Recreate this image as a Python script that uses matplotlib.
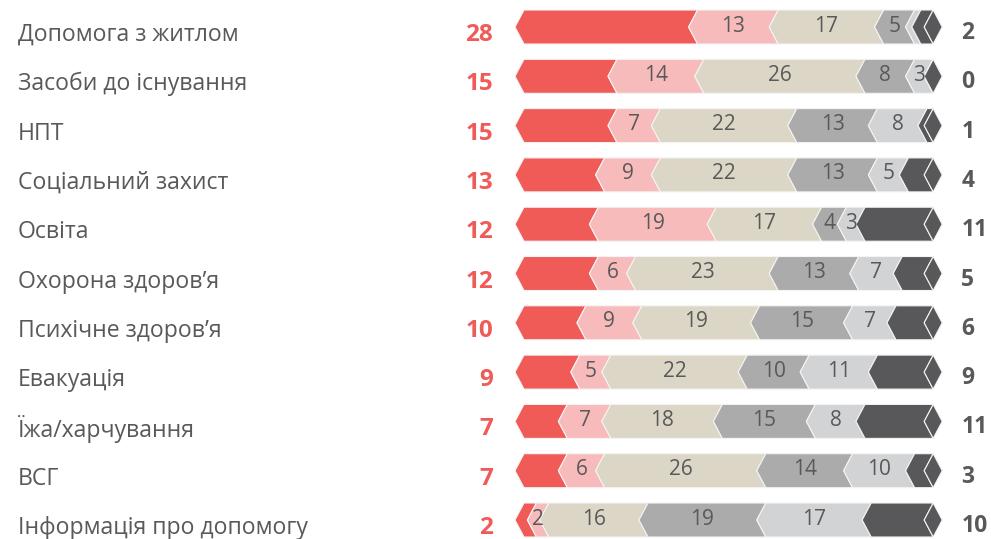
import numpy as np
import matplotlib
matplotlib.use("Agg")
from matplotlib import pyplot as plt
from matplotlib.patches import Polygon

plt.rcParams['font.family'] = ['Open Sans', 'DejaVu Sans']

categories = ["Допомога з житлом", "Засоби до існування", "НПТ", "Соціальний захист",
              "Освіта", "Охорона здоров’я", "Психічне здоров’я", "Евакуація",
              "Їжа/харчування", "ВСГ", "Інформація про допомогу"]
s1 = [28, 15, 15, 13, 12, 12, 10, 9, 7, 7, 2]     # червоний
s2 = [13, 14, 7, 9, 19, 6, 9, 5, 7, 6, 2]         # рожевий
s3 = [17, 26, 22, 22, 17, 23, 19, 22, 18, 26, 16] # бежевий
s4 = [5, 8, 13, 13, 4, 13, 15, 10, 15, 14, 19]    # сірий
s5 = [1, 3, 8, 5, 3, 7, 7, 11, 8, 10, 17]         # світло-сірий
s6 = [2, 0, 1, 4, 11, 5, 6, 9, 11, 3, 10]         # темний

colors = ['#F05A57', '#F7BBBB', '#DCD6C6', '#ABABAB', '#D2D3D5', '#58585A']
txt = '#595959'

series = np.array([s1, s2, s3, s4, s5, s6], dtype=float)
n = len(categories)

W, H = 991, 539
x0px, ppu = 524, 6.2          # pixel of zero, pixels per unit
y0px, rowpx = 27, 49.3
p = 9 / ppu                   # chevron depth in data units
hh = 17 / rowpx               # half bar height

fig = plt.figure(figsize=(W / 100, H / 100), dpi=100)
ax = fig.add_axes([0, 0, 1, 1])
ax.set_xlim(-x0px / ppu, (W - x0px) / ppu)
ax.set_ylim((H - y0px) / rowpx, -y0px / rowpx)
ax.axis('off')

for i in range(n):
    left = 0.0
    for k in range(6):
        v = series[k, i]
        a, b = left, left + v
        top, bot = i - hh, i + hh
        pts = [(a, top), (b, top), (b - p, i), (b, bot), (a, bot), (a - p, i)]
        ax.add_patch(Polygon(pts, closed=True, facecolor=colors[k],
                             edgecolor='#F4F4F4', linewidth=0.8, zorder=2 + k))
        if 1 <= k <= 4 and v >= 2:
            ax.text((a + b) / 2 - p / 2, i - 0.02, '%d' % v, ha='center', va='center',
                    fontsize=15, color=txt, zorder=10)
        left = b
    # end cap
    b = left
    cap = [(b, i - hh), (b + p, i), (b, i + hh), (b - p, i)]
    ax.add_patch(Polygon(cap, closed=True, facecolor=colors[5],
                         edgecolor='#F4F4F4', linewidth=0.8, zorder=9))

    ax.annotate(categories[i], xy=(18 / W, i), xycoords=ax.get_yaxis_transform(),
                xytext=(0, -8), textcoords='offset pixels', ha='left', va='center',
                fontsize=16.6, color=txt)
    ax.annotate('%d' % s1[i], xy=(-p, i), xytext=(-22, -8), textcoords='offset pixels',
                ha='right', va='center', fontsize=17.5, fontweight='bold', color=colors[0])
    ax.annotate('%d' % s6[i], xy=(b + p, i), xytext=(19, -6), textcoords='offset pixels',
                ha='left', va='center', fontsize=16.5, fontweight='bold', color=txt)

fig.savefig('out.png', dpi=100)
